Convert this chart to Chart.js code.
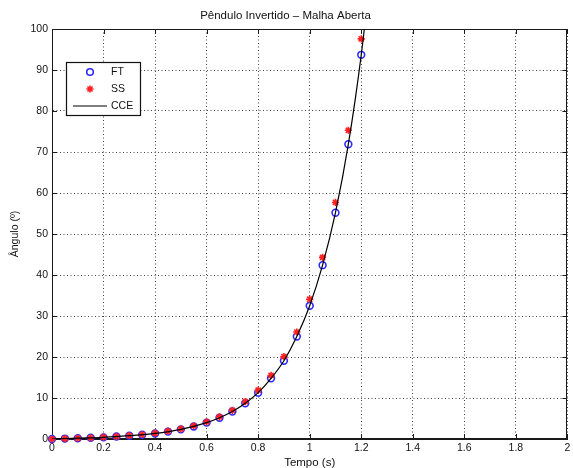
<!DOCTYPE html>
<html>
<head>
<meta charset="utf-8">
<script src="https://cdn.jsdelivr.net/npm/chart.js@4/dist/chart.umd.min.js"></script>
<style>
  html, body { margin: 0; padding: 0; background: #fff; }
  #wrap { width: 573px; height: 468px; }
</style>
</head>
<body>
<div id="wrap"><canvas id="chart"></canvas></div>
<script>
// Values (angle in degrees vs time in seconds)
const time = [0, 0.05, 0.1, 0.15, 0.2, 0.25, 0.3, 0.35, 0.4, 0.45, 0.5, 0.55, 0.6,
              0.65, 0.7, 0.75, 0.8, 0.85, 0.9, 0.95, 1.0, 1.05, 1.1, 1.15, 1.2];
const ftValues = [0, 0.1, 0.2, 0.3, 0.4, 0.6, 0.8, 1.05, 1.35, 1.8, 2.35, 3.05, 4.0,
                  5.2, 6.7, 8.7, 11.3, 14.8, 19.1, 25.0, 32.5, 42.4, 55.2, 71.9, 93.7];
const ssValues = [0, 0.1, 0.2, 0.3, 0.45, 0.65, 0.85, 1.1, 1.45, 1.9, 2.45, 3.2, 4.2,
                  5.4, 7.0, 9.1, 11.9, 15.5, 20.1, 26.1, 34.1, 44.3, 57.7, 75.3, 97.6];
// CCE curve runs a little past the last sample and leaves the axes at the top
const cceTime = [0, 0.1, 0.2, 0.3, 0.4, 0.5, 0.6, 0.65, 0.7, 0.75, 0.8, 0.85, 0.9,
                 0.95, 1.0, 1.05, 1.1, 1.15, 1.2, 1.25];
const cceValues = [0, 0.2, 0.4, 0.8, 1.35, 2.35, 4.0, 5.2, 6.7, 8.7, 11.3, 14.8, 19.1,
                   25.0, 32.5, 42.4, 55.2, 71.9, 93.7, 121.5];

const xTickLabels = ['0', '0.2', '0.4', '0.6', '0.8', '1', '1.2', '1.4', '1.6', '1.8', '2'];
const yTickLabels = ['0', '10', '20', '30', '40', '50', '60', '70', '80', '90', '100'];

const seriesNames = ['FT', 'SS', 'CCE'];
const FT_COLOR = '#2b2bff';
const SS_COLOR = '#ff2020';
const FONT = 'Liberation Sans, Arial, Helvetica, sans-serif';

function toPoints(xs, ys) {
    return xs.map((x, i) => ({ x: x, y: ys[i] }));
}

// Box around the axes, inward tick marks and the MATLAB style legend
const matlabFrame = {
    id: 'matlabFrame',
    beforeDatasetsDraw(chart) {
        const ctx = chart.ctx;
        const area = chart.chartArea;
        const xs = chart.scales.x;
        const ys = chart.scales.y;
        ctx.save();
        ctx.strokeStyle = '#1a1a1a';
        ctx.lineWidth = 1;
        ctx.beginPath();
        xs.ticks.forEach(t => {
            const px = Math.round(xs.getPixelForValue(t.value)) + 0.5;
            ctx.moveTo(px, area.bottom); ctx.lineTo(px, area.bottom - 5);
            ctx.moveTo(px, area.top); ctx.lineTo(px, area.top + 5);
        });
        ys.ticks.forEach(t => {
            const py = Math.round(ys.getPixelForValue(t.value)) + 0.5;
            ctx.moveTo(area.left, py); ctx.lineTo(area.left + 5, py);
            ctx.moveTo(area.right, py); ctx.lineTo(area.right - 5, py);
        });
        ctx.stroke();
        ctx.strokeRect(Math.round(area.left) + 0.5, Math.round(area.top) + 0.5,
            Math.round(area.right - area.left) - 1, Math.round(area.bottom - area.top) - 1);
        ctx.restore();
    },
    afterDatasetsDraw(chart) {
        const ctx = chart.ctx;
        ctx.save();
        const bx = 66, by = 62, bw = 74, bh = 53;
        ctx.fillStyle = '#fff';
        ctx.fillRect(bx, by, bw, bh);
        ctx.strokeStyle = '#111';
        ctx.lineWidth = 1.2;
        ctx.strokeRect(bx + 0.5, by + 0.5, bw, bh);
        const rows = [72, 89, 106];
        ctx.lineWidth = 1.6;
        ctx.strokeStyle = FT_COLOR;
        ctx.beginPath();
        ctx.arc(90, rows[0], 3.3, 0, Math.PI * 2);
        ctx.stroke();
        ctx.strokeStyle = SS_COLOR;
        ctx.fillStyle = SS_COLOR;
        ctx.lineWidth = 1.6;
        Chart.helpers.drawPoint(ctx, { pointStyle: 'star', radius: 3.6, borderWidth: 1.6 }, 90, rows[1]);
        ctx.strokeStyle = '#000';
        ctx.lineWidth = 1.2;
        ctx.beginPath();
        ctx.moveTo(73, rows[2]); ctx.lineTo(107, rows[2]);
        ctx.stroke();
        ctx.fillStyle = '#111';
        ctx.font = '10.5px ' + FONT;
        ctx.textBaseline = 'middle';
        ctx.textAlign = 'left';
        seriesNames.forEach((name, i) => ctx.fillText(name, 111, rows[i] + 0.5));
        ctx.restore();
    }
};

function fixSize(prop, size) {
    return function (scale) {
        scale[prop] = size;
        scale.paddingLeft = 0;
        scale.paddingRight = 0;
        scale.paddingTop = 0;
        scale.paddingBottom = 0;
    };
}

new Chart(document.getElementById('chart'), {
    type: 'scatter',
    data: {
        datasets: [
            {
                label: seriesNames[0],
                data: toPoints(time, ftValues),
                showLine: false,
                clip: false,
                pointStyle: 'circle',
                pointRadius: 3.4,
                pointBorderWidth: 1.6,
                pointBorderColor: FT_COLOR,
                pointBackgroundColor: 'rgba(0,0,0,0)',
                order: 2
            },
            {
                label: seriesNames[1],
                data: toPoints(time, ssValues),
                showLine: false,
                clip: false,
                pointStyle: 'star',
                pointRadius: 3.6,
                pointBorderWidth: 1.6,
                pointBorderColor: SS_COLOR,
                pointBackgroundColor: SS_COLOR,
                order: 1
            },
            {
                label: seriesNames[2],
                data: toPoints(cceTime, cceValues),
                showLine: true,
                borderColor: '#000',
                borderWidth: 1.2,
                pointRadius: 0,
                cubicInterpolationMode: 'monotone',
                order: 0
            }
        ]
    },
    options: {
        responsive: true,
        maintainAspectRatio: false,
        animation: false,
        layout: { padding: { top: 0, right: 2, bottom: 0, left: 0 } },
        plugins: {
            legend: { display: false },
            tooltip: { enabled: false },
            title: {
                display: true,
                text: 'Pêndulo Invertido – Malha Aberta',
                color: '#111',
                font: { family: FONT, size: 11.5, weight: 'normal' },
                padding: { top: 9, bottom: 6.2 }
            }
        },
        scales: {
            x: {
                type: 'linear',
                min: 0,
                max: 2,
                afterFit: fixSize('height', 29),
                ticks: {
                    stepSize: 0.2,
                    color: '#111',
                    padding: 3,
                    maxRotation: 0,
                    autoSkip: false,
                    font: { family: FONT, size: 10.5 },
                    callback: (v, i) => xTickLabels[i]
                },
                grid: { color: '#444', lineWidth: 1, drawTicks: false },
                border: { display: true, color: '#1a1a1a', width: 1, dash: [1, 2.5] },
                title: {
                    display: true,
                    text: 'Tempo (s)',
                    color: '#111',
                    font: { family: FONT, size: 11.5 },
                    padding: { top: 0, bottom: -2 }
                }
            },
            y: {
                type: 'linear',
                min: 0,
                max: 100,
                afterFit: fixSize('width', 52),
                ticks: {
                    stepSize: 10,
                    color: '#111',
                    padding: 4,
                    font: { family: FONT, size: 10.5 },
                    callback: (v, i) => yTickLabels[i]
                },
                grid: { color: '#444', lineWidth: 1, drawTicks: false },
                border: { display: true, color: '#1a1a1a', width: 1, dash: [1, 2.5] },
                title: {
                    display: true,
                    text: 'Ângulo (º)',
                    color: '#111',
                    font: { family: FONT, size: 10.5 },
                    padding: { top: 8.7, bottom: 0 }
                }
            }
        }
    },
    plugins: [matlabFrame]
});
</script>
</body>
</html>
